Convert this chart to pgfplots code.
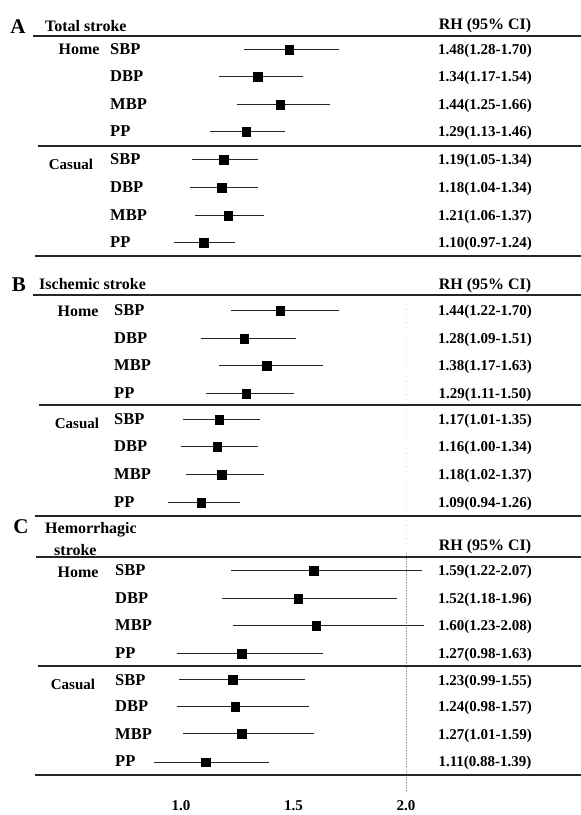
\documentclass[border=0pt]{standalone}
\usepackage{fontspec}
\setmainfont{Liberation Serif}
\usepackage{pgfplots}
\usepackage{pgfplotstable}
\pgfplotsset{compat=1.18}

% row = vertical pixel position of the row, rh = estimate, lo/hi = 95% CI
\pgfplotstableread{
row rh lo hi
50  1.48 1.28 1.70
77  1.34 1.17 1.54
105 1.44 1.25 1.66
132 1.29 1.13 1.46
160 1.19 1.05 1.34
188 1.18 1.04 1.34
216 1.21 1.06 1.37
243 1.10 0.97 1.24
}\dataA
\pgfplotstableread{
row rh lo hi
311 1.44 1.22 1.70
339 1.28 1.09 1.51
366 1.38 1.17 1.63
394 1.29 1.11 1.50
420 1.17 1.01 1.35
447 1.16 1.00 1.34
475 1.18 1.02 1.37
503 1.09 0.94 1.26
}\dataB
\pgfplotstableread{
row rh lo hi
571 1.59 1.22 2.07
599 1.52 1.18 1.96
626 1.60 1.23 2.08
654 1.27 0.98 1.63
680 1.23 0.99 1.55
707 1.24 0.98 1.57
734 1.27 1.01 1.59
762 1.11 0.88 1.39
}\dataC

\newcommand\F{\fontsize{15}{17}\selectfont\bfseries}
\newcommand\FT{\fontsize{16}{18}\selectfont\bfseries}
\newcommand\FR{\fontsize{16.5}{18}\selectfont\bfseries}
\newcommand\FL{\fontsize{21}{23}\selectfont\bfseries}
\newcommand\rowtxt[4]{%
  \node[anchor=base west,font=\FR,inner sep=0pt] at (#1,#2+5) {#3};
  \node[anchor=base,font=\F,inner sep=0pt] at (485,#2+5) {#4};}

\pgfplotsset{fp/.style={
    only marks, mark=square*, mark size=4.3pt,
    mark options={fill=black, draw=black},
    color=black,
    error bars/x dir=both, error bars/x explicit,
    error bars/error mark=none,
    error bars/error bar style={line width=1pt, black!85}
}}

\begin{document}
\begin{tikzpicture}
\begin{axis}[
  anchor=south west, at={(0pt,0pt)},
  scale only axis, width=581pt, height=795pt,
  xmin=0.195556, xmax=2.777778, ymin=0, ymax=795,
  axis line style={draw=none},
  ytick=\empty,
  xtick={1,1.5,2}, xticklabels={1.0,1.5,2.0},
  major tick length=0pt,
  xticklabel style={font=\F, yshift=-2pt},
  clip=false,
]
\draw[gray!70, densely dotted, line width=0.6pt] (axis cs:2,{795-553}) -- (axis cs:2,{795-792});
\draw[gray!25, loosely dotted, line width=0.5pt] (axis cs:2,{795-300}) -- (axis cs:2,{795-553});
\addplot[fp] table[x=rh, y expr=795-\thisrow{row},
  x error plus expr=\thisrow{hi}-\thisrow{rh},
  x error minus expr=\thisrow{rh}-\thisrow{lo}] {\dataA};
\addplot[fp] table[x=rh, y expr=795-\thisrow{row},
  x error plus expr=\thisrow{hi}-\thisrow{rh},
  x error minus expr=\thisrow{rh}-\thisrow{lo}] {\dataB};
\addplot[fp] table[x=rh, y expr=795-\thisrow{row},
  x error plus expr=\thisrow{hi}-\thisrow{rh},
  x error minus expr=\thisrow{rh}-\thisrow{lo}] {\dataC};
\end{axis}

\begin{scope}[x=1pt,y=-1pt,shift={(0pt,795pt)}]
  % rules
  \foreach \y/\xs in {36/33,146/38,256/35,295/33,405/39,516/35,557/36,666/38,775/35}
    \draw[line width=1.3pt, black!85] (\xs,\y) -- (581,\y);

  % Panel A
  \node[anchor=base,font=\FL,inner sep=0pt] at (18,34) {A};
  \node[anchor=base west,font=\FT,inner sep=0pt] at (45,32) {Total stroke};
  \node[anchor=base,font=\FT,inner sep=0pt] at (485,30) {RH (95\% CI)};
  \node[anchor=base,font=\FT,inner sep=0pt] at (79,55) {Home};
  \node[anchor=base,font=\F,inner sep=0pt] at (71,170) {Casual};
  \rowtxt{110}{50}{SBP}{1.48(1.28-1.70)}
  \rowtxt{110}{77}{DBP}{1.34(1.17-1.54)}
  \rowtxt{110}{105}{MBP}{1.44(1.25-1.66)}
  \rowtxt{110}{132}{PP}{1.29(1.13-1.46)}
  \rowtxt{110}{160}{SBP}{1.19(1.05-1.34)}
  \rowtxt{110}{188}{DBP}{1.18(1.04-1.34)}
  \rowtxt{110}{216}{MBP}{1.21(1.06-1.37)}
  \rowtxt{110}{243}{PP}{1.10(0.97-1.24)}

  % Panel B
  \node[anchor=base,font=\FL,inner sep=0pt] at (19,292) {B};
  \node[anchor=base west,font=\FT,inner sep=0pt] at (39,290) {Ischemic stroke};
  \node[anchor=base,font=\FT,inner sep=0pt] at (485,290) {RH (95\% CI)};
  \node[anchor=base,font=\FT,inner sep=0pt] at (78,317) {Home};
  \node[anchor=base,font=\F,inner sep=0pt] at (77,429) {Casual};
  \rowtxt{114}{311}{SBP}{1.44(1.22-1.70)}
  \rowtxt{114}{339}{DBP}{1.28(1.09-1.51)}
  \rowtxt{114}{366}{MBP}{1.38(1.17-1.63)}
  \rowtxt{114}{394}{PP}{1.29(1.11-1.50)}
  \rowtxt{114}{420}{SBP}{1.17(1.01-1.35)}
  \rowtxt{114}{447}{DBP}{1.16(1.00-1.34)}
  \rowtxt{114}{475}{MBP}{1.18(1.02-1.37)}
  \rowtxt{114}{503}{PP}{1.09(0.94-1.26)}

  % Panel C
  \node[anchor=base,font=\FL,inner sep=0pt] at (21,534) {C};
  \node[anchor=base west,font=\FT,inner sep=0pt] at (45,534) {Hemorrhagic};
  \node[anchor=base west,font=\FT,inner sep=0pt] at (54,556) {stroke};
  \node[anchor=base,font=\FT,inner sep=0pt] at (485,551) {RH (95\% CI)};
  \node[anchor=base,font=\FT,inner sep=0pt] at (78,578) {Home};
  \node[anchor=base,font=\F,inner sep=0pt] at (73,690) {Casual};
  \rowtxt{115}{571}{SBP}{1.59(1.22-2.07)}
  \rowtxt{115}{599}{DBP}{1.52(1.18-1.96)}
  \rowtxt{115}{626}{MBP}{1.60(1.23-2.08)}
  \rowtxt{115}{654}{PP}{1.27(0.98-1.63)}
  \rowtxt{115}{680}{SBP}{1.23(0.99-1.55)}
  \rowtxt{115}{707}{DBP}{1.24(0.98-1.57)}
  \rowtxt{115}{734}{MBP}{1.27(1.01-1.59)}
  \rowtxt{115}{762}{PP}{1.11(0.88-1.39)}

  \pgfresetboundingbox
  \path[use as bounding box] (0,0) rectangle (581,815);
\end{scope}
\end{tikzpicture}
\end{document}
